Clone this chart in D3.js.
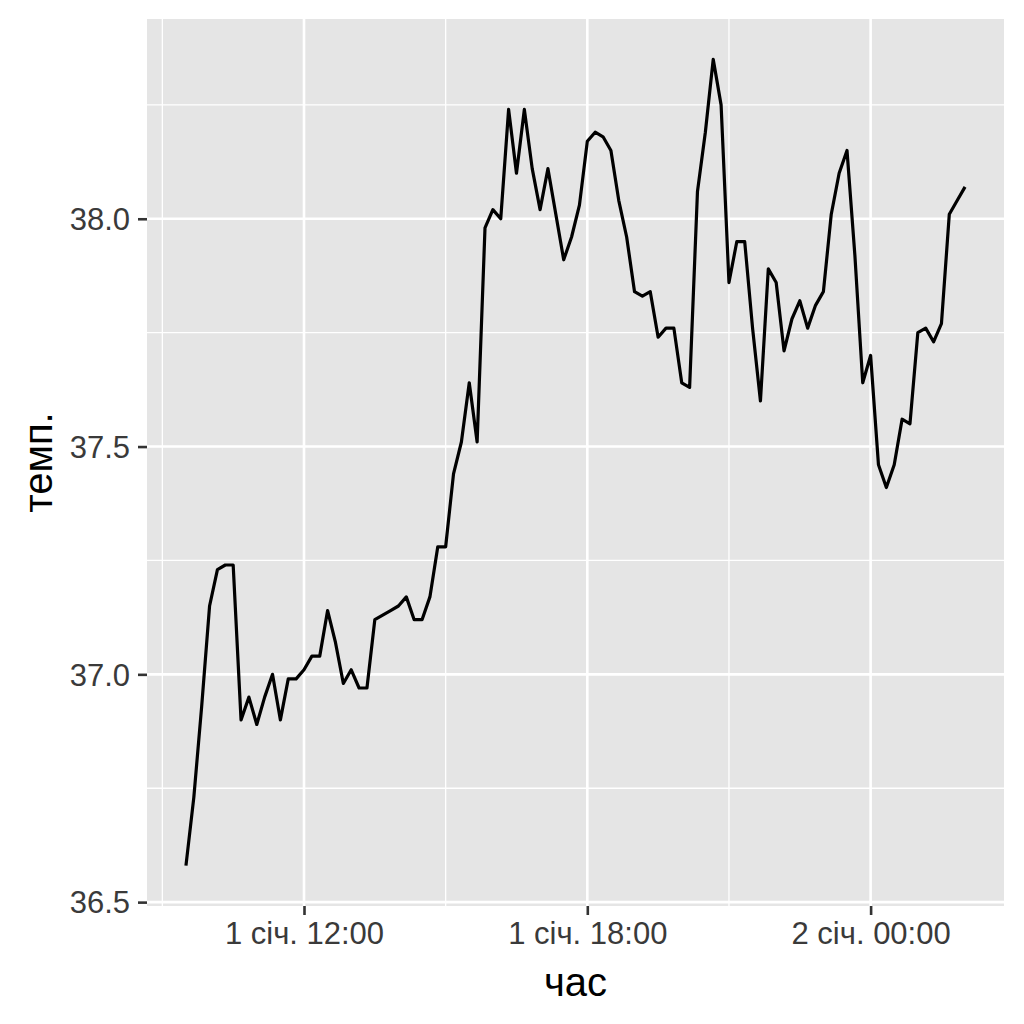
<!DOCTYPE html>
<html>
<head>
<meta charset="utf-8">
<script src="https://cdn.jsdelivr.net/npm/d3@7"></script>
<style>
  body { margin: 0; background: #fff; }
  svg { font-family: "Liberation Sans", Arial, sans-serif; }
</style>
</head>
<body>
<div id="chart"></div>
<script>
// beaver body temperature, readings every 10 minutes (HHMM)
var times = [930, 940, 950, 1000, 1010, 1020, 1030, 1040, 1050, 1100,
  1110, 1120, 1130, 1140, 1150, 1200, 1210, 1220, 1230, 1240,
  1250, 1300, 1310, 1320, 1330, 1340, 1350, 1400, 1410, 1420,
  1430, 1440, 1450, 1500, 1510, 1520, 1530, 1540, 1550, 1600,
  1610, 1620, 1630, 1640, 1650, 1700, 1710, 1720, 1730, 1740,
  1750, 1800, 1810, 1820, 1830, 1840, 1850, 1900, 1910, 1920,
  1930, 1940, 1950, 2000, 2010, 2020, 2030, 2040, 2050, 2100,
  2110, 2120, 2130, 2140, 2150, 2200, 2210, 2220, 2230, 2240,
  2250, 2300, 2310, 2320, 2330, 2340, 2350, 0, 10, 20,
  30, 40, 50, 100, 110, 120, 130, 140, 150, 200];
var temps = [36.58, 36.73, 36.93, 37.15, 37.23, 37.24, 37.24, 36.90, 36.95, 36.89,
  36.95, 37.00, 36.90, 36.99, 36.99, 37.01, 37.04, 37.04, 37.14, 37.07,
  36.98, 37.01, 36.97, 36.97, 37.12, 37.13, 37.14, 37.15, 37.17, 37.12,
  37.12, 37.17, 37.28, 37.28, 37.44, 37.51, 37.64, 37.51, 37.98, 38.02,
  38.00, 38.24, 38.10, 38.24, 38.11, 38.02, 38.11, 38.01, 37.91, 37.96,
  38.03, 38.17, 38.19, 38.18, 38.15, 38.04, 37.96, 37.84, 37.83, 37.84,
  37.74, 37.76, 37.76, 37.64, 37.63, 38.06, 38.19, 38.35, 38.25, 37.86,
  37.95, 37.95, 37.76, 37.60, 37.89, 37.86, 37.71, 37.78, 37.82, 37.76,
  37.81, 37.84, 38.01, 38.10, 38.15, 37.92, 37.64, 37.70, 37.46, 37.41,
  37.46, 37.56, 37.55, 37.75, 37.76, 37.73, 37.77, 38.01, 38.04, 38.07];
var xBreaks = ["2000-01-01T12:00", "2000-01-01T18:00", "2000-01-02T00:00"];
var xLabels = ["1 січ. 12:00", "1 січ. 18:00", "2 січ. 00:00"];
var xMinor = ["2000-01-01T09:00", "2000-01-01T15:00", "2000-01-01T21:00"];
var yBreaks = [36.5, 37.0, 37.5, 38.0];
var yMinor = [36.75, 37.25, 37.75, 38.25];

// turn HHMM into dates, rolling over to the next day after midnight
var day = 1, prev = -1;
var data = times.map(function (t, i) {
    if (t < prev) day++;
    prev = t;
    return { time: new Date(2000, 0, day, Math.floor(t / 100), t % 100), temp: temps[i] };
});
var parse = d3.timeParse("%Y-%m-%dT%H:%M");

var W = 1024, H = 1024;
var panel = { left: 147, top: 19, right: 1004, bottom: 906 };

var svg = d3.select("#chart").append("svg")
    .attr("width", W).attr("height", H);

// ggplot style 5% expansion
var tExt = d3.extent(data, function (d) { return d.time; });
var tPad = (tExt[1] - tExt[0]) * 0.05;
var x = d3.scaleTime()
    .domain([new Date(+tExt[0] - tPad), new Date(+tExt[1] + tPad)])
    .range([panel.left, panel.right]);
var yExt = d3.extent(temps);
var yPad = (yExt[1] - yExt[0]) * 0.05;
var y = d3.scaleLinear()
    .domain([yExt[0] - yPad, yExt[1] + yPad])
    .range([panel.bottom, panel.top]);

svg.append("rect")
    .attr("x", panel.left).attr("y", panel.top)
    .attr("width", panel.right - panel.left)
    .attr("height", panel.bottom - panel.top)
    .attr("fill", "#e5e5e5");

var grid = svg.append("g");
grid.selectAll(".ymin").data(yMinor).enter().append("line")
    .attr("x1", panel.left).attr("x2", panel.right)
    .attr("y1", y).attr("y2", y)
    .attr("stroke", "#fff").attr("stroke-width", 1.3);
grid.selectAll(".xmin").data(xMinor.map(parse)).enter().append("line")
    .attr("y1", panel.top).attr("y2", panel.bottom)
    .attr("x1", x).attr("x2", x)
    .attr("stroke", "#fff").attr("stroke-width", 1.3);
grid.selectAll(".ymaj").data(yBreaks).enter().append("line")
    .attr("x1", panel.left).attr("x2", panel.right)
    .attr("y1", y).attr("y2", y)
    .attr("stroke", "#fff").attr("stroke-width", 2.6);
grid.selectAll(".xmaj").data(xBreaks.map(parse)).enter().append("line")
    .attr("y1", panel.top).attr("y2", panel.bottom)
    .attr("x1", x).attr("x2", x)
    .attr("stroke", "#fff").attr("stroke-width", 2.6);

var line = d3.line()
    .x(function (d) { return x(d.time); })
    .y(function (d) { return y(d.temp); });
svg.append("path").datum(data)
    .attr("d", line)
    .attr("fill", "none")
    .attr("stroke", "#000")
    .attr("stroke-width", 3.2)
    .attr("stroke-linejoin", "round");

// axes
var xAxis = d3.axisBottom(x)
    .tickValues(xBreaks.map(parse))
    .tickFormat(function (d, i) { return xLabels[i]; })
    .tickSize(9).tickPadding(7);
var gx = svg.append("g")
    .attr("transform", "translate(0," + panel.bottom + ")")
    .call(xAxis);
var yAxis = d3.axisLeft(y)
    .tickValues(yBreaks)
    .tickFormat(d3.format(".1f"))
    .tickSize(9).tickPadding(8);
var gy = svg.append("g")
    .attr("transform", "translate(" + panel.left + ",0)")
    .call(yAxis);
[gx, gy].forEach(function (g) {
    g.select(".domain").remove();
    g.selectAll(".tick line").attr("stroke", "#333").attr("stroke-width", 2.6);
    g.selectAll("text").attr("fill", "#3a3a3a").style("font-size", "31px");
});
gy.selectAll("text").attr("dy", "0.35em");
gx.selectAll("text").attr("dy", "0.72em");

svg.append("text")
    .attr("x", (panel.left + panel.right) / 2)
    .attr("y", 996)
    .attr("text-anchor", "middle")
    .style("font-size", "40px")
    .attr("fill", "#000")
    .text("час");
svg.append("text")
    .attr("transform", "translate(52," + (panel.top + panel.bottom) / 2 + ") rotate(-90)")
    .attr("text-anchor", "middle")
    .style("font-size", "40px")
    .attr("fill", "#000")
    .text("темп.");
</script>
</body>
</html>
